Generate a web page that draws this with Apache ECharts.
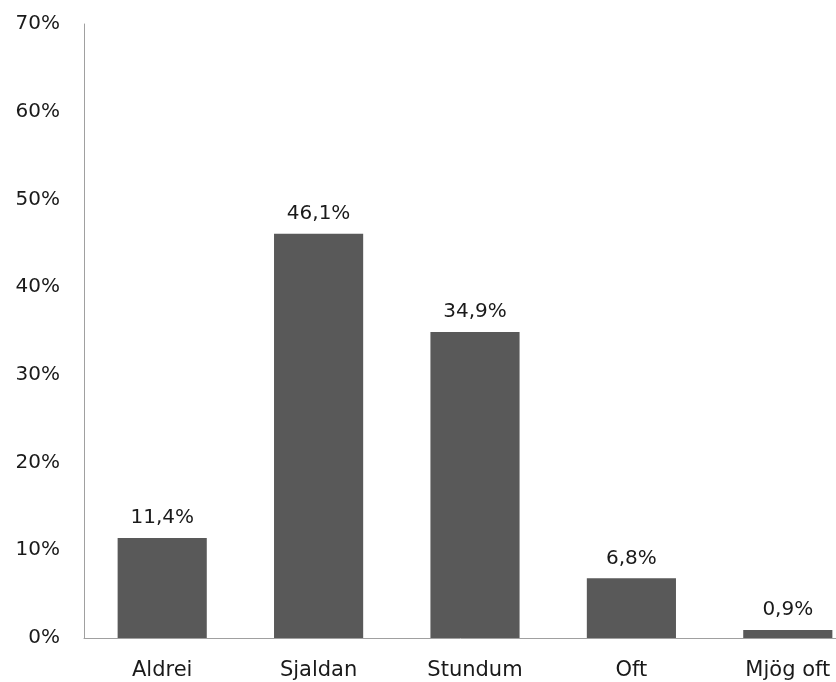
<!DOCTYPE html>
<html>
<head>
<meta charset="utf-8">
<script src="https://cdn.jsdelivr.net/npm/echarts@6/dist/echarts.min.js"></script>
<style>
  html, body { margin: 0; padding: 0; background: #fff; }
  #main { width: 836px; height: 682px; }
</style>
</head>
<body>
<div id="main"></div>
<script>
var categories = ['Aldrei', 'Sjaldan', 'Stundum', 'Oft', 'Mjög oft']
var values = [11.4, 46.1, 34.9, 6.8, 0.9]
var yTicks = [0, 10, 20, 30, 40, 50, 60, 70]

var myChart = echarts.init(document.getElementById('main'))
var font = '"DejaVu Sans", sans-serif'

var option = {
  animation: false,
  grid: {
    left: 84,
    width: 782,
    top: 24,
    bottom: 44,
    containLabel: false,
    outerBoundsMode: 'none',
  },
  xAxis: {
    type: 'category',
    data: categories,
    axisLine: { show: true, lineStyle: { color: '#a0a0a0', width: 1 } },
    axisTick: { show: false },
    axisLabel: { color: '#1a1a1a', fontSize: 21, fontFamily: font, margin: 22 },
  },
  yAxis: {
    type: 'value',
    min: yTicks[0],
    max: yTicks[yTicks.length - 1],
    interval: 10,
    axisLine: { show: true, lineStyle: { color: '#a0a0a0', width: 1 } },
    axisTick: { show: false },
    splitLine: { show: false },
    axisLabel: {
      color: '#1a1a1a',
      fontSize: 20,
      fontFamily: font,
      margin: 24,
      formatter: (val) => val + '%',
    },
  },
  series: [
    {
      type: 'bar',
      data: values,
      barWidth: '57%',
      itemStyle: { color: '#595959' },
      label: {
        show: true,
        position: 'top',
        distance: 10,
        color: '#1a1a1a',
        fontSize: 20,
        fontFamily: font,
        formatter: (p) => p.value.toFixed(1).replace('.', ',') + '%',
      },
    },
  ],
}
myChart.setOption(option)
</script>
</body>
</html>
